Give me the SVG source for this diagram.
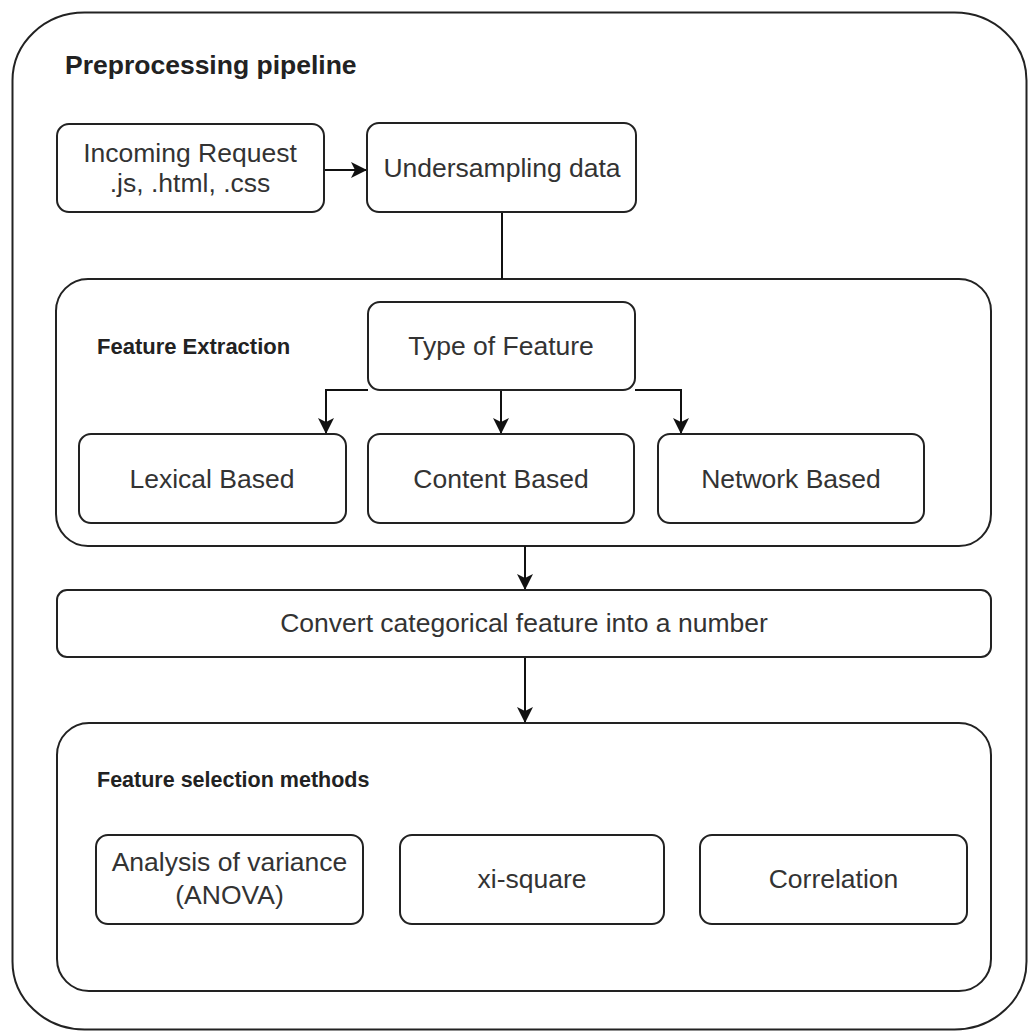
<svg xmlns="http://www.w3.org/2000/svg" width="1028" height="1032" viewBox="0 0 1028 1032">
  <style>
    .box { fill: #ffffff; stroke: #222222; stroke-width: 2; }
    .cont { fill: none; stroke: #222222; stroke-width: 2; }
    .t { font-family: "Liberation Sans", Arial, sans-serif; fill: #333333; text-anchor: middle; font-size: 26.5px; }
    .lbl { font-family: "Liberation Sans", Arial, sans-serif; fill: #222222; font-weight: bold; }
    .conn { fill: none; stroke: #111111; stroke-width: 2; }
  </style>
  <defs>
    <marker id="arr" viewBox="0 0 16 16" refX="15" refY="8" markerWidth="16" markerHeight="16" markerUnits="userSpaceOnUse" orient="auto">
      <path d="M0,0 L16,8 L0,16 L4,8 Z" fill="#111111"/>
    </marker>
  </defs>
  <rect width="1028" height="1032" fill="#ffffff"/>

  <g id="pipeline">
    <rect class="cont" x="12.5" y="12.5" width="1014" height="1017" rx="72" ry="68"/>
    <text class="lbl" x="65" y="74" font-size="26.5">Preprocessing pipeline</text>
  </g>

  <g id="feature-extraction">
    <rect class="cont" x="56" y="279" width="935" height="267" rx="32"/>
    <text class="lbl" x="97" y="354" font-size="22">Feature Extraction</text>
  </g>

  <g id="feature-selection">
    <rect class="cont" x="57" y="723" width="934" height="268" rx="32"/>
    <text class="lbl" x="97" y="787" font-size="21.5">Feature selection methods</text>
  </g>

  <g id="connectors">
    <path class="conn" d="M324,170 H366" marker-end="url(#arr)"/>
    <path class="conn" d="M502,212 V279"/>
    <path class="conn" d="M368,390 H326 V433" marker-end="url(#arr)"/>
    <path class="conn" d="M501,390 V433" marker-end="url(#arr)"/>
    <path class="conn" d="M635,390 H681 V433" marker-end="url(#arr)"/>
    <path class="conn" d="M525,546 V589" marker-end="url(#arr)"/>
    <path class="conn" d="M525,657 V722" marker-end="url(#arr)"/>
  </g>

  <g id="incoming-request">
    <rect class="box" x="57" y="124" width="267" height="88" rx="12"/>
    <text class="t" x="190" y="162">Incoming Request</text>
    <text class="t" x="190" y="192">.js, .html, .css</text>
  </g>

  <g id="undersampling">
    <rect class="box" x="367" y="123" width="269" height="89" rx="12"/>
    <text class="t" x="502" y="177">Undersampling data</text>
  </g>

  <g id="type-of-feature">
    <rect class="box" x="368" y="302" width="267" height="88" rx="12"/>
    <text class="t" x="501" y="355">Type of Feature</text>
  </g>

  <g id="lexical">
    <rect class="box" x="79" y="434" width="267" height="89" rx="12"/>
    <text class="t" x="212" y="488">Lexical Based</text>
  </g>

  <g id="content">
    <rect class="box" x="368" y="434" width="266" height="89" rx="12"/>
    <text class="t" x="501" y="488">Content Based</text>
  </g>

  <g id="network">
    <rect class="box" x="658" y="434" width="266" height="89" rx="12"/>
    <text class="t" x="791" y="488">Network Based</text>
  </g>

  <g id="convert">
    <rect class="box" x="57" y="590" width="934" height="67" rx="10"/>
    <text class="t" x="524" y="632">Convert categorical feature into a number</text>
  </g>

  <g id="anova">
    <rect class="box" x="96" y="835" width="267" height="89" rx="12"/>
    <text class="t" x="229.5" y="871">Analysis of variance</text>
    <text class="t" x="229.5" y="904">(ANOVA)</text>
  </g>

  <g id="xi-square">
    <rect class="box" x="400" y="835" width="264" height="89" rx="12"/>
    <text class="t" x="532" y="888">xi-square</text>
  </g>

  <g id="correlation">
    <rect class="box" x="700" y="835" width="267" height="89" rx="12"/>
    <text class="t" x="833.5" y="888">Correlation</text>
  </g>
</svg>
